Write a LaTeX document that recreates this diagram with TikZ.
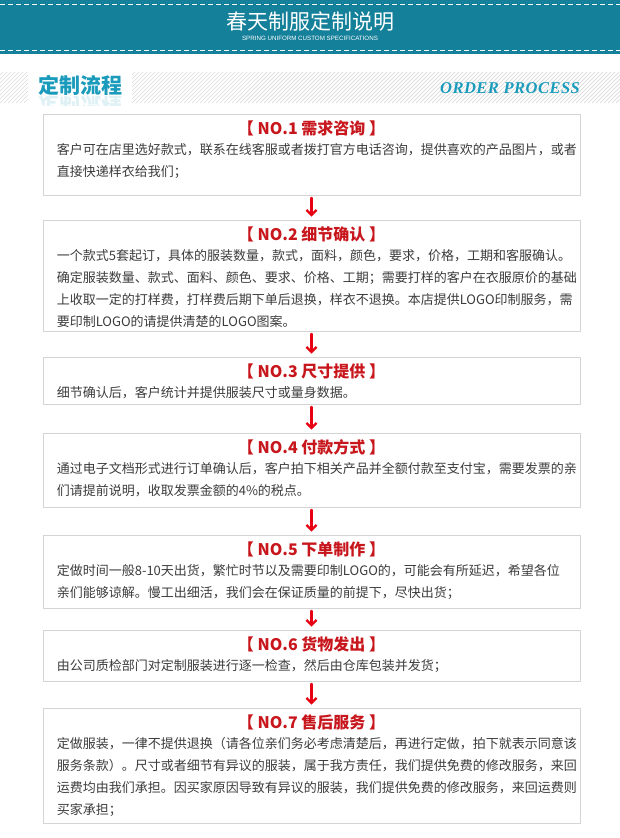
\documentclass[tikz,border=0pt]{standalone}
\usepackage{fontspec}
\setmainfont{Noto Sans CJK SC}
\newfontfamily\latinsans{Liberation Sans}
\newfontfamily\latinserif{Liberation Serif}[LetterSpace=3]
\usetikzlibrary{positioning,arrows.meta}
\definecolor{headteal}{HTML}{14809A}
\definecolor{titleteal}{HTML}{1A9BBB}
\definecolor{stepred}{HTML}{C8161D}
\definecolor{arrowred}{HTML}{E60012}
\definecolor{boxgray}{HTML}{D4D4D4}
\definecolor{textgray}{HTML}{3C3C3C}
\definecolor{stripegray}{HTML}{DADADA}
\tikzset{
  stepbox/.style={draw=boxgray, line width=.8pt, fill=white, minimum width=537pt, inner sep=0pt},
  steptitle/.style={text=stepred, font=\fontsize{16}{16}\selectfont\bfseries, inner sep=0pt},
  stepbody/.style={text=textgray, font=\fontsize{13}{22}\selectfont, align=left, inner sep=0pt, anchor=north west},
  steparrow/.style={arrowred, line width=2.3pt, -{Straight Barb[length=5pt,width=10pt]}, shorten <=2.5pt, shorten >=3pt},
}
\begin{document}
\begin{tikzpicture}[x=1pt,y=-1pt, line join=round, line cap=round]
        \useasboundingbox (0,0) rectangle (620,838);
        % header
        \fill[headteal] (0,0) rectangle (620,54);
        \draw[white, line width=.8pt, line cap=butt, dash pattern=on 5pt off 3pt] (0,4) -- (620,4) (0,50) -- (620,50);
        \node[white, inner sep=0pt, font=\fontsize{21}{21}\selectfont] (head) at (310,22) {春天制服定制说明};
        \node[white, inner sep=0pt, font=\latinsans\fontsize{6.2}{6.5}\selectfont, below=4.3pt of head] (headsub) {SPRING UNIFORM CUSTOM SPECIFICATIONS};
        % section bar
        \begin{scope}
            \clip (0,72) rectangle (28,103) (132,72) rectangle (620,103);
            \foreach \s in {-40,-36,...,640}
                \draw[stripegray, line width=.7pt] (\s,103) -- ++(31,-31);
        \end{scope}
        \node[titleteal, inner sep=0pt, font=\fontsize{21}{21}\selectfont\bfseries] (sect) at (80,85) {定制流程};
        \begin{scope}
            \clip (20,96) rectangle (140,105);
            \node[titleteal, opacity=.14, yscale=-1, inner sep=0pt, font=\fontsize{21}{21}\selectfont\bfseries] (sectmirror) at (80,106) {定制流程};
        \end{scope}
        \node[titleteal, inner sep=0pt, font=\latinserif\bfseries\itshape\fontsize{16.5}{17}\selectfont] (sectsub) at (510,88) {ORDER PROCESS};
        % steps
        \foreach \n/\yc/\h/\ttl/\txt in {
            1/154.5/81/需求咨询/{客户可在店里选好款式，联系在线客服或者拨打官方电话咨询，提供喜欢的产品图片，或者\\直接快递样衣给我们；},
            2/275.5/111/细节确认/{一个款式5套起订，具体的服装数量，款式，面料，颜色，要求，价格，工期和客服确认。\\确定服装数量、款式、面料、颜色、要求、价格、工期；需要打样的客户在衣服原价的基础\\上收取一定的打样费，打样费后期下单后退换，样衣不退换。本店提供LOGO印制服务，需\\要印制LOGO的请提供清楚的LOGO图案。},
            3/380.5/47/尺寸提供/{细节确认后，客户统计并提供服装尺寸或量身数据。},
            4/470/74/付款方式/{通过电子文档形式进行订单确认后，客户拍下相关产品并全额付款至支付宝，需要发票的亲\\们请提前说明，收取发票金额的4\%的税点。},
            5/571.5/73/下单制作/{定做时间一般8-10天出货，繁忙时节以及需要印制LOGO的，可能会有所延迟，希望各位\\亲们能够谅解。慢工出细活，我们会在保证质量的前提下，尽快出货；},
            6/655.5/51/货物发出/{由公司质检部门对定制服装进行逐一检查，然后由仓库包装并发货；},
            7/765.5/115/售后服务/{定做服装，一律不提供退换（请各位亲们务必考虑清楚后，再进行定做，拍下就表示同意该\\服务条款）。尺寸或者细节有异议的服装，属于我方责任，我们提供免费的修改服务，来回\\运费均由我们承担。因买家原因导致有异议的服装，我们提供免费的修改服务，来回运费则\\买家承担；}}{
            \node[stepbox, minimum height=\h pt] (no\n) at (311.5,\yc) {};
            \node[steptitle, below=7pt of no\n.north] (t\n) {【 NO.\n\ \ttl\ 】};
            \node[stepbody] (b\n) at ([xshift=14pt,yshift=-29.5pt]no\n.north west) {\txt};
        }
        \foreach \a [evaluate=\a as \b using int(\a+1)] in {1,...,6}
            \draw[steparrow] (no\a) -- (no\b);
    \end{tikzpicture}
\end{document}
